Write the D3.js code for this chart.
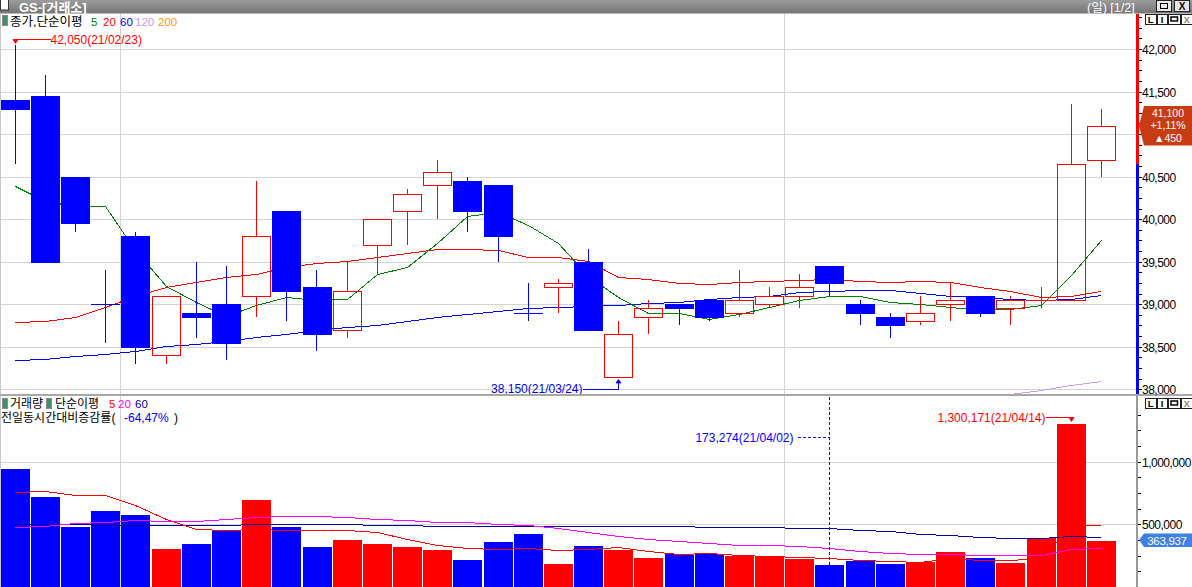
<!DOCTYPE html>
<html><head><meta charset="utf-8">
<script src="https://cdn.jsdelivr.net/npm/d3@7"></script>
<style>
body{margin:0;background:#fff;overflow:hidden}
svg{display:block}
</style>
</head><body>
<svg id="c" width="1192" height="587"></svg>
<script>
// ---------------- DATA ----------------
const dates = ["21/02/23","21/02/24","21/02/25","21/02/26","21/03/02","21/03/03","21/03/04","21/03/05","21/03/08","21/03/09",
  "21/03/10","21/03/11","21/03/12","21/03/15","21/03/16","21/03/17","21/03/18","21/03/19","21/03/22","21/03/23",
  "21/03/24","21/03/25","21/03/26","21/03/29","21/03/30","21/03/31","21/04/01","21/04/02","21/04/05","21/04/06",
  "21/04/07","21/04/08","21/04/09","21/04/12","21/04/13","21/04/14","21/04/15"];
const openP  = [41400,41450,40500,39000,39800,38400,38900,39000,39100,40100,39200,38700,39700,40100,40400,40450,40400,38900,39200,39500,
  38150,38850,39000,39050,38900,39000,39100,39450,39000,38850,38800,39000,39100,38950,39050,39050,40700];
const highP  = [42050,41700,40500,39400,39850,39100,39500,39450,40450,40100,39400,39500,40000,40350,40700,40500,40400,39250,39300,39650,
  38800,39050,39000,39050,39400,39200,39350,39450,39050,38900,39100,39250,39100,39100,39200,41350,41300];
const lowP   = [40650,39500,39850,38550,38300,38300,38600,38350,38850,38800,38450,38600,39350,39700,40000,39850,39500,38800,38900,38700,
  38150,38650,38750,38800,38850,38950,38950,39100,38750,38600,38750,38800,38850,38750,38950,39050,40500];
const closeP = [41300,39500,39950,39000,38500,39100,38850,38550,39800,39150,38650,39150,40000,40300,40550,40100,39800,38900,39250,38700,
  38650,38950,38950,38850,39050,39100,39200,39250,38900,38750,38900,39050,38900,39050,39050,40650,41100];
const ma5   = [40390,40210,40150,40150,39640,39220,39030,38860,38990,39090,39050,39060,39360,39440,39720,40040,40080,39930,39720,39330,
  39090,38900,38900,38830,38890,38970,39050,39100,39100,39030,39000,38970,38930,38940,38990,39340,39750];
const ma20  = [38790,38800,38850,38970,39100,39200,39260,39320,39360,39440,39480,39510,39560,39600,39650,39650,39640,39560,39560,39510,
  39320,39300,39250,39240,39260,39270,39280,39300,39270,39260,39270,39260,39200,39150,39080,39100,39160];
const ma60  = [38340,38360,38390,38420,38450,38510,38530,38570,38620,38650,38700,38730,38760,38800,38850,38890,38920,38950,38970,38980,
  38990,39010,39030,39060,39080,39100,39140,39160,39170,39170,39130,39100,39080,39060,39050,39060,39110];
const ma120 = [null,null,null,null,null,null,null,null,null,null,null,null,null,null,null,null,null,null,null,null,
  null,null,null,null,null,null,null,null,null,null,null,37880,37910,37950,37990,38045,38098];
const volume = [942500,718800,479200,607000,575100,303500,343400,455300,694900,479200,319500,375400,343400,319500,295500,215600,359400,423300,183700,327500,
  295500,231600,263600,263600,247600,247600,223600,173274,207700,183700,199700,279500,231600,191700,391400,1300171,363937];
const vma5  = [756400,764400,734800,732400,654900,543100,460800,457700,460800,455300,457700,457700,441700,381000,333100,309100,301100,313900,295500,305900,
  317100,285100,266000,274000,255600,247600,239600,229200,215600,207700,202100,229200,213300,215600,231600,487200,495200];
const vma20 = [476800,489600,508800,519200,532700,527100,527100,543100,559100,564700,564700,556700,540700,532700,519200,516800,505600,492800,468800,441700,
  409700,383400,367400,351400,337800,333100,327500,311500,287500,269200,263600,263600,255600,253200,253200,305900,309100];
const vma60 = [500800,500800,500800,496800,492800,492800,492800,492800,499200,500800,500800,500800,492800,492800,484800,484800,484800,484800,484800,484800,
  484800,484800,484800,479200,476800,476800,468800,468800,455300,447300,423300,411300,396900,389000,389000,404900,396900];
const priceTicks = [38000,38500,39000,39500,40000,40500,41000,41500,42000];
const volTicks = [500000,1000000];
const prevClose = 40650;
const changeRate = "+1,11%";
const volChangeRate = "-64,47%";

// ---------------- SETUP ----------------
const svg = d3.select("#c");
const W = 1192, H = 587, AX = 1137;
const top0 = 13, top1 = 394, bot0 = 396, bot1 = 587;
const KR = "'Liberation Sans', 'Noto Sans CJK KR', sans-serif";
const NUM = "'Liberation Sans', sans-serif";
const fmt = d3.format(",");
const RED = "#ff0000", BLUE = "#0000ff";

const x = d3.scaleBand().domain(dates).range([0.2, 0.2 + 37 * 30.17]).paddingInner(0.04).paddingOuter(0.02);
const bw = Math.round(x.bandwidth());
const cx = d => Math.floor(x(d) + x.bandwidth() / 2) + 0.5;
const bx = d => Math.round(x(d));
const py = d3.scaleLinear().domain([38000, 42000]).range([389.3, 49]);
const vy = d3.scaleLinear().domain([0, 1000000]).range([587, 461.7]);
const rp = v => Math.round(py(v));

const candles = dates.map((d, i) => {
  let up;
  if (closeP[i] > openP[i]) up = true;
  else if (closeP[i] < openP[i]) up = false;
  else up = i === 0 ? true : closeP[i] >= closeP[i - 1];
  return {d, o: openP[i], h: highP[i], l: lowP[i], c: closeP[i], up, v: volume[i]};
});
const last = candles[candles.length - 1];

const defs = svg.append("defs");
const g1 = defs.append("linearGradient").attr("id", "tbar").attr("x1", 0).attr("x2", 0).attr("y1", 0).attr("y2", 1);
g1.append("stop").attr("offset", 0).attr("stop-color", "#9c9c9c");
g1.append("stop").attr("offset", 1).attr("stop-color", "#767676");
defs.append("clipPath").attr("id", "clipTop").append("rect").attr("x", 0).attr("y", top0).attr("width", AX - 1).attr("height", top1 - top0);
defs.append("clipPath").attr("id", "clipBot").append("rect").attr("x", 0).attr("y", bot0).attr("width", AX - 1).attr("height", bot1 - bot0);

svg.append("rect").attr("width", W).attr("height", H).attr("fill", "#fff");

// ---------------- TITLE BAR ----------------
svg.append("rect").attr("x", 0).attr("y", 0).attr("width", W).attr("height", 13).attr("fill", "url(#tbar)");
svg.append("line").attr("x1", 0).attr("x2", W).attr("y1", 13.5).attr("y2", 13.5).attr("stroke", "#b8b8b8");
svg.append("rect").attr("x", 0.5).attr("y", -1).attr("width", 8).attr("height", 11).attr("fill", "#fff").attr("stroke", "#333");
svg.append("text").attr("x", 19).attr("y", 11.5).attr("fill", "#fff").attr("font-family", KR).attr("font-size", 13).attr("font-weight", "bold").text("GS-[거래소]");
svg.append("text").attr("x", 1087).attr("y", 11.5).attr("fill", "#fff").attr("font-family", KR).attr("font-size", 12.5).text("(일) [1/2]");
[[1156, "max"], [1174, "x"]].forEach(([bxp, t]) => {
  svg.append("rect").attr("x", bxp + 0.5).attr("y", 0.5).attr("width", 15).attr("height", 11).attr("fill", "#e8e8e8").attr("stroke", "#222");
  if (t === "max") svg.append("rect").attr("x", bxp + 4.5).attr("y", 3.5).attr("width", 7).attr("height", 5).attr("fill", "none").attr("stroke", "#000").attr("stroke-width", 1);
  else svg.append("text").attr("x", bxp + 8).attr("y", 10).attr("text-anchor", "middle").attr("font-family", NUM).attr("font-size", 10).attr("font-weight", "bold").text("X");
});

// panel buttons
function panelButtons(y0) {
  const labels = ["L", "I", "□", "X"];
  const xs = [1145, 1156.5, 1167.5, 1181];
  const ws = [10.5, 10, 12.5, 10.5];
  labels.forEach((t, i) => {
    svg.append("rect").attr("x", xs[i] + 0.5).attr("y", y0 + 0.5).attr("width", ws[i]).attr("height", 10).attr("fill", "#fff").attr("stroke", "#222").attr("shape-rendering", "crispEdges");
    if (t === "□") svg.append("rect").attr("x", xs[i] + 3.5).attr("y", y0 + 3.5).attr("width", ws[i] - 6).attr("height", 4).attr("fill", "none").attr("stroke", "#000").attr("stroke-width", 1.5);
    else svg.append("text").attr("x", xs[i] + ws[i] / 2 + 0.5).attr("y", y0 + 9).attr("text-anchor", "middle").attr("font-family", NUM)
      .attr("font-size", 9.5).attr("font-weight", "bold").attr("fill", t === "X" ? "#888" : "#000").text(t);
  });
}

// ---------------- GRID ----------------
const grid = svg.append("g").attr("shape-rendering", "crispEdges");
priceTicks.forEach(v => grid.append("line").attr("x1", 0).attr("x2", AX).attr("y1", rp(v) + 0.5).attr("y2", rp(v) + 0.5).attr("stroke", "#d4d4d4"));
volTicks.forEach(v => grid.append("line").attr("x1", 0).attr("x2", AX).attr("y1", Math.round(vy(v)) + 0.5).attr("y2", Math.round(vy(v)) + 0.5).attr("stroke", "#d4d4d4"));
// month boundaries
dates.forEach((d, i) => {
  if (i > 0 && d.slice(3, 5) !== dates[i - 1].slice(3, 5)) {
    const xx = Math.round(x(d) - x.step() * 0.02) - 0.5;
    grid.append("line").attr("x1", xx).attr("x2", xx).attr("y1", top0 + 1).attr("y2", top1).attr("stroke", "#d4d4d4");
    grid.append("line").attr("x1", xx).attr("x2", xx).attr("y1", bot0).attr("y2", bot1).attr("stroke", "#d4d4d4");
  }
});
grid.append("line").attr("x1", 0.5).attr("x2", 0.5).attr("y1", top0).attr("y2", H).attr("stroke", "#c8c8c8");

// ---------------- TOP PANEL ----------------
const topG = svg.append("g").attr("clip-path", "url(#clipTop)");
function maLine(g, arr, yScale, color) {
  const line = d3.line().defined(v => v !== null).x((v, i) => cx(dates[i])).y(v => Math.round(yScale(v)) + 0.5);
  g.append("path").datum(arr).attr("d", line).attr("fill", "none").attr("stroke", color).attr("stroke-width", 1).attr("shape-rendering", "crispEdges");
}
maLine(topG, ma120, py, "#c8a0f0");
maLine(topG, ma60, py, BLUE);
maLine(topG, ma20, py, RED);
maLine(topG, ma5, py, "#008000");

const cg = topG.append("g").attr("shape-rendering", "crispEdges");
candles.forEach(k => {
  const col = k.up ? RED : BLUE;
  const c = cx(k.d), x0 = bx(k.d);
  const yt = rp(Math.max(k.o, k.c)), yb = rp(Math.min(k.o, k.c));
  const yh = rp(k.h), yl = rp(k.l);
  if (k.o === k.c) {
    cg.append("line").attr("x1", c).attr("x2", c).attr("y1", yh).attr("y2", yl).attr("stroke", col);
    cg.append("line").attr("x1", x0).attr("x2", x0 + bw).attr("y1", yt + 0.5).attr("y2", yt + 0.5).attr("stroke", col);
  } else if (k.up) {
    if (yh < yt) cg.append("line").attr("x1", c).attr("x2", c).attr("y1", yh).attr("y2", yt).attr("stroke", col);
    if (yl > yb) cg.append("line").attr("x1", c).attr("x2", c).attr("y1", yb).attr("y2", yl).attr("stroke", col);
    cg.append("rect").attr("x", x0 + 0.5).attr("y", yt + 0.5).attr("width", bw - 1).attr("height", Math.max(1, yb - yt)).attr("fill", "none").attr("stroke", col);
  } else {
    cg.append("line").attr("x1", c).attr("x2", c).attr("y1", yh).attr("y2", yl).attr("stroke", col);
    cg.append("rect").attr("x", x0).attr("y", yt).attr("width", bw).attr("height", Math.max(2, yb - yt + 1)).attr("fill", col);
  }
});

// top legend
svg.append("rect").attr("x", 2.5).attr("y", 15.5).attr("width", 5).attr("height", 10).attr("fill", "#3f8f6a").attr("stroke", "#8a8a8a");
svg.append("text").attr("x", 10).attr("y", 25.5).attr("font-family", KR).attr("font-size", 12.5).attr("fill", "#000").text("종가,단순이평");
[["5", 91, "#008000"], ["20", 103, RED], ["60", 120, BLUE], ["120", 135, "#c0a0f0"], ["200", 158, "#ff9900"]].forEach(([t, xx, c]) =>
  svg.append("text").attr("x", xx).attr("y", 25.5).attr("font-family", NUM).attr("font-size", 11.5).attr("fill", c).text(t));
panelButtons(13.5);

// high / low annotations
const iH = d3.maxIndex(highP), iL = d3.minIndex(lowP);
{
  const c = cx(dates[iH]), yy = Math.round(py(highP[iH])) - 6 + 0.5;
  svg.append("line").attr("x1", c).attr("x2", c + 35).attr("y1", yy).attr("y2", yy).attr("stroke", RED).attr("shape-rendering", "crispEdges");
  svg.append("path").attr("d", `M${c - 2.5},${yy} L${c + 2.5},${yy} L${c},${yy + 4} Z`).attr("fill", RED).attr("stroke", RED).attr("stroke-width", 0.8);
  svg.append("text").attr("x", c + 35).attr("y", yy + 4.5).attr("font-family", NUM).attr("font-size", 12).attr("fill", RED)
    .text(`${fmt(highP[iH])}(${dates[iH]})`);
}
{
  const c = cx(dates[iL]), yb = Math.round(py(lowP[iL]));
  const yy = yb + 12.5;
  svg.append("line").attr("x1", c - 36).attr("x2", c).attr("y1", yy).attr("y2", yy).attr("stroke", BLUE).attr("shape-rendering", "crispEdges");
  svg.append("line").attr("x1", c).attr("x2", c).attr("y1", yy).attr("y2", yb + 4).attr("stroke", BLUE).attr("shape-rendering", "crispEdges");
  svg.append("path").attr("d", `M${c - 2.5},${yb + 6} L${c + 2.5},${yb + 6} L${c},${yb + 2.5} Z`).attr("fill", BLUE).attr("stroke", BLUE).attr("stroke-width", 0.8);
  svg.append("text").attr("x", c - 36).attr("y", yy + 3.5).attr("text-anchor", "end").attr("font-family", NUM).attr("font-size", 12).attr("fill", BLUE)
    .text(`${fmt(lowP[iL])}(${dates[iL]})`);
}

// separator
svg.append("rect").attr("x", 0).attr("y", top1).attr("width", W).attr("height", 2).attr("fill", "#a8a8a8");

// top axis
svg.append("rect").attr("x", AX - 1).attr("y", top0 + 1).attr("width", 3).attr("height", rp(prevClose) - top0 - 1).attr("fill", RED);
svg.append("rect").attr("x", AX - 1).attr("y", rp(prevClose)).attr("width", 3).attr("height", top1 - rp(prevClose)).attr("fill", BLUE);
const tickG = svg.append("g").attr("shape-rendering", "crispEdges");
for (let v = 38000; v <= 42375; v += 125) {
  const yy = rp(v) + 0.5;
  if (yy < top0 + 2) continue;
  tickG.append("line").attr("x1", AX + 2).attr("x2", AX + 5).attr("y1", yy).attr("y2", yy).attr("stroke", "#000");
}
const boxC = Math.round(py(last.c)), boxT = boxC - 20, boxB = boxC + 19.5;
priceTicks.filter(v => rp(v) + 6 < boxT || rp(v) - 6 > boxB)   // label hidden under the current-price box is not drawn
  .forEach(v => svg.append("text").attr("x", AX + 5).attr("y", rp(v) + 4.5).attr("font-family", NUM).attr("font-size", 12)
  .attr("letter-spacing", "-0.5px").attr("fill", "#000").text(fmt(v)));

// price box
{
  svg.append("path").attr("d", `M${AX + 2},${boxC} L${AX + 7},${boxT} L${W},${boxT} L${W},${boxB} L${AX + 7},${boxB} Z`).attr("fill", "#c83c14");
  const lines = [fmt(last.c), changeRate, "▲" + fmt(last.c - prevClose)];
  lines.forEach((s, i) => svg.append("text").attr("x", 1168).attr("y", boxT + 10.5 + i * 12.6).attr("text-anchor", "middle")
    .attr("font-family", "'Liberation Sans', 'DejaVu Sans', sans-serif").attr("font-size", 10.5).attr("fill", "#fff").text(s));
}

// ---------------- BOTTOM PANEL ----------------
const botG = svg.append("g").attr("clip-path", "url(#clipBot)");
botG.append("g").attr("shape-rendering", "crispEdges").selectAll("rect").data(candles).join("rect")
  .attr("x", k => bx(k.d)).attr("width", bw)
  .attr("y", k => Math.round(vy(k.v))).attr("height", k => bot1 - Math.round(vy(k.v)))
  .attr("fill", k => k.up ? RED : BLUE);
maLine(botG, vma60, vy, "#0000a0");
maLine(botG, vma20, vy, "#ff00ff");
maLine(botG, vma5, vy, RED);

// bottom legend
svg.append("rect").attr("x", 2.5).attr("y", 398.5).attr("width", 5).attr("height", 10).attr("fill", "#3f8f6a").attr("stroke", "#8a8a8a");
svg.append("text").attr("x", 10).attr("y", 408).attr("font-family", KR).attr("font-size", 12).text("거래량");
svg.append("rect").attr("x", 46.5).attr("y", 398.5).attr("width", 5).attr("height", 10).attr("fill", "#3f8f6a").attr("stroke", "#8a8a8a");
svg.append("text").attr("x", 55).attr("y", 408).attr("font-family", KR).attr("font-size", 12).text("단순이평");
[["5", 109, RED], ["20", 118, "#ff00ff"], ["60", 135, "#0000a0"]].forEach(([t, xx, c]) =>
  svg.append("text").attr("x", xx).attr("y", 408).attr("font-family", NUM).attr("font-size", 11.5).attr("fill", c).text(t));
svg.append("text").attr("x", 1).attr("y", 422).attr("font-family", KR).attr("font-size", 12).text("전일동시간대비증감률(");
svg.append("text").attr("x", 124).attr("y", 422).attr("font-family", NUM).attr("font-size", 12).attr("fill", BLUE).text(volChangeRate);
svg.append("text").attr("x", 174).attr("y", 422).attr("font-family", NUM).attr("font-size", 12).text(")");
panelButtons(397.5);

// volume annotations
{
  const iMin = d3.minIndex(volume.slice(20)) + 20; // lowest volume in the recent window
  const c = cx(dates[iMin]), yy = 437.5;
  svg.append("line").attr("x1", c).attr("x2", c).attr("y1", bot0 + 1).attr("y2", bot1).attr("stroke", BLUE).attr("stroke-dasharray", "3,2").attr("shape-rendering", "crispEdges");
  svg.append("line").attr("x1", c - 32).attr("x2", c).attr("y1", yy).attr("y2", yy).attr("stroke", BLUE).attr("stroke-dasharray", "3,2").attr("shape-rendering", "crispEdges");
  svg.append("text").attr("x", c - 36).attr("y", yy + 4).attr("text-anchor", "end").attr("font-family", NUM).attr("font-size", 12).attr("fill", BLUE)
    .text(`${fmt(volume[iMin])}(${dates[iMin]})`);
}
{
  const iMax = d3.maxIndex(volume);
  const c = cx(dates[iMax]), yt = Math.round(vy(volume[iMax])), yy = yt - 6.5;
  svg.append("line").attr("x1", c - 26).attr("x2", c).attr("y1", yy).attr("y2", yy).attr("stroke", RED).attr("shape-rendering", "crispEdges");
  svg.append("path").attr("d", `M${c - 2.5},${yy} L${c + 2.5},${yy} L${c},${yy + 4} Z`).attr("fill", RED).attr("stroke", RED).attr("stroke-width", 0.8);
  svg.append("text").attr("x", c - 26).attr("y", yy + 4).attr("text-anchor", "end").attr("font-family", NUM).attr("font-size", 12).attr("fill", RED)
    .text(`${fmt(volume[iMax])}(${dates[iMax]})`);
}

// bottom axis
svg.append("rect").attr("x", AX - 1).attr("y", bot0).attr("width", 2).attr("height", bot1 - bot0).attr("fill", "#9a9a9a");
for (let v = 125000; v <= 1375000; v += 125000) {
  const yy = Math.round(vy(v)) + 0.5;
  tickG.append("line").attr("x1", AX + 1).attr("x2", AX + 4).attr("y1", yy).attr("y2", yy).attr("stroke", "#000");
}
volTicks.forEach(v => svg.append("text").attr("x", AX + 5).attr("y", Math.round(vy(v)) + 4.5).attr("font-family", NUM).attr("font-size", 12)
  .attr("letter-spacing", "-0.5px").text(fmt(v)));
{
  const yc = Math.round(vy(last.v)) - 1, t = yc - 6.5, b = yc + 7;
  svg.append("path").attr("d", `M${AX + 2},${yc} L${AX + 7},${t} L${W},${t} L${W},${b} L${AX + 7},${b} Z`).attr("fill", "#3f7fe8");
  svg.append("text").attr("x", 1167).attr("y", yc + 4.5).attr("text-anchor", "middle").attr("font-family", NUM).attr("font-size", 11.5)
    .attr("letter-spacing", "-0.3px").attr("fill", "#fff").text(fmt(last.v));
}
</script>
</body></html>
